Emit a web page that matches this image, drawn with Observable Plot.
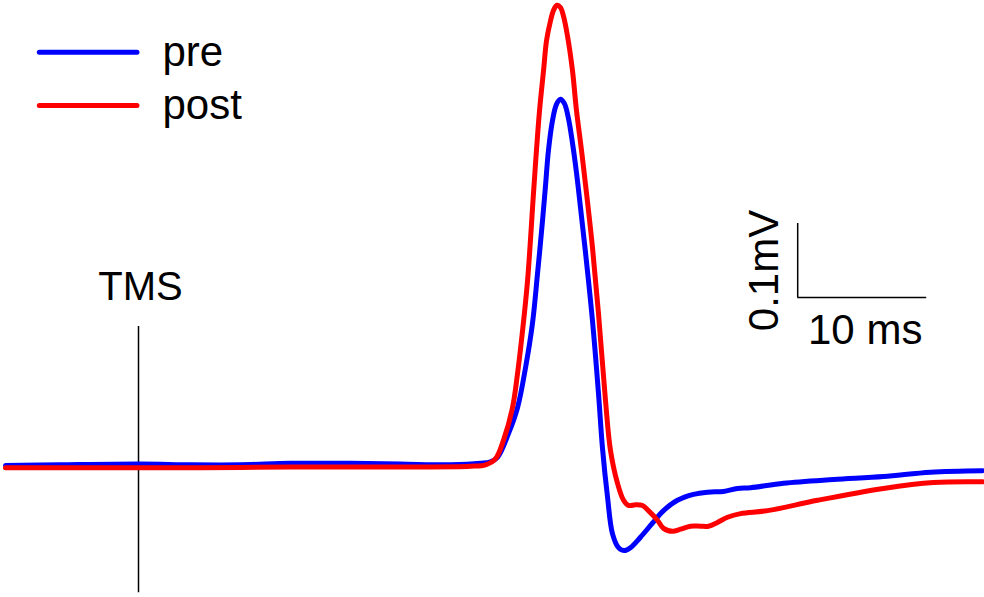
<!DOCTYPE html>
<html>
<head>
<meta charset="utf-8">
<script src="https://cdn.jsdelivr.net/npm/d3@7"></script>
<script src="https://cdn.jsdelivr.net/npm/@observablehq/plot@0.6"></script>
<style>
  html, body { margin: 0; padding: 0; background: #fff; }
  #chart { width: 984px; height: 597px; }
</style>
</head>
<body>
<div id="chart"></div>
<script>
// time (ms, relative to TMS) and amplitude (mV)
const preTime = [-10.31,-6.05,0.16,4.03,7.91,11.78,16.43,20.31,24.19,26.51,27.29,27.83,28.68,29.38,30.00,30.54,30.93,31.32,31.55,31.78,32.09,32.40,32.71,33.02,33.33,33.64,33.95,34.26,34.65,35.19,35.66,35.97,36.36,36.74,37.21,37.67,38.14,38.91,39.84,40.70,41.78,43.02,44.11,45.35,46.43,47.44,50.00,53.88,57.75,61.40,65.43];
const preAmp  = [0.000,0.001,0.002,0.001,0.001,0.003,0.003,0.002,0.001,0.003,0.005,0.011,0.043,0.078,0.132,0.192,0.259,0.331,0.378,0.426,0.466,0.488,0.495,0.489,0.469,0.436,0.396,0.349,0.288,0.196,0.097,0.023,-0.043,-0.092,-0.111,-0.115,-0.111,-0.097,-0.078,-0.061,-0.047,-0.039,-0.036,-0.035,-0.031,-0.030,-0.024,-0.019,-0.015,-0.009,-0.007];

const postTime = [-10.31,-2.95,4.81,11.78,20.31,25.74,26.90,27.67,28.29,28.99,29.38,29.77,30.16,30.62,30.85,31.09,31.40,31.63,31.94,32.17,32.44,32.71,32.95,33.26,33.64,33.95,34.34,34.73,35.19,35.66,36.20,36.59,37.13,37.60,37.98,38.53,39.07,39.53,40.23,40.70,41.40,42.02,42.79,43.57,44.19,44.88,45.66,46.67,48.76,52.64,57.75,61.63,65.43];
const postAmp  = [-0.003,-0.003,-0.003,-0.002,-0.002,-0.001,0.001,0.009,0.034,0.078,0.124,0.182,0.250,0.368,0.426,0.480,0.534,0.574,0.601,0.615,0.622,0.619,0.607,0.580,0.534,0.480,0.426,0.368,0.295,0.205,0.088,0.020,-0.024,-0.047,-0.054,-0.053,-0.054,-0.061,-0.074,-0.085,-0.089,-0.086,-0.082,-0.082,-0.082,-0.077,-0.070,-0.065,-0.061,-0.047,-0.031,-0.023,-0.022];

const seriesNames = ["pre", "post"];
const seriesColors = ["#0000ff", "#ff0000"];
const legendAmp = [0.5585, 0.4865];

const tmsTime = 0;
const tmsAmpRange = [0.188, -0.172];
const tmsLabel = "TMS";

const barTime = [51.1, 61.1];   // 10 ms
const barAmp = [0.227, 0.327];  // 0.1 mV
const barTimeLabel = "10 ms";
const barAmpLabel = "0.1mV";

const preData = preTime.map((t, i) => ({t, v: preAmp[i]}));
const postData = postTime.map((t, i) => ({t, v: postAmp[i]}));

const font = "Liberation Sans, Arial, Helvetica, sans-serif";
const xMin = -10.698;

const chart = Plot.plot({
  width: 984,
  height: 597,
  marginTop: 0, marginBottom: 0, marginLeft: 0, marginRight: 0,
  x: {domain: [xMin, 65.581], axis: null},
  y: {domain: [-0.17838, 0.62838], axis: null},
  style: {fontFamily: font, background: "#fff"},
  marks: [
    // TMS marker
    Plot.ruleX([tmsTime], {y1: tmsAmpRange[0], y2: tmsAmpRange[1], stroke: "#000", strokeWidth: 1.5}),
    Plot.text([tmsLabel], {x: tmsTime, y: tmsAmpRange[0], dx: 2, dy: -26, fontSize: 40, fill: "#000", textAnchor: "middle", lineAnchor: "bottom"}),
    // traces
    Plot.line(preData, {x: "t", y: "v", stroke: seriesColors[0], strokeWidth: 5, curve: "catmull-rom", strokeLinejoin: "round", strokeLinecap: "round"}),
    Plot.line(postData, {x: "t", y: "v", stroke: seriesColors[1], strokeWidth: 5, curve: "catmull-rom", strokeLinejoin: "round", strokeLinecap: "round"}),
    // scale bar
    Plot.ruleX([barTime[0]], {y1: barAmp[0], y2: barAmp[1], stroke: "#000", strokeWidth: 1.5}),
    Plot.ruleY([barAmp[0]], {x1: barTime[0], x2: barTime[1], stroke: "#000", strokeWidth: 1.5}),
    Plot.text([barTimeLabel], {x: (barTime[0] + barTime[1]) / 2, y: barAmp[0], dx: 3, dy: 46, fontSize: 42, fill: "#000", textAnchor: "middle", lineAnchor: "bottom"}),
    Plot.text([barAmpLabel], {x: barTime[0], y: (barAmp[0] + barAmp[1]) / 2, dx: -20, dy: 10, rotate: -90, fontSize: 42, fill: "#000", textAnchor: "middle", lineAnchor: "bottom"}),
    // legend
    Plot.ruleY(seriesNames, {x1: () => -7.65, x2: () => -0.08, y: (d, i) => legendAmp[i], stroke: (d, i) => seriesColors[i], strokeWidth: 5, strokeLinecap: "round"}),
    Plot.text(seriesNames, {x: () => xMin, dx: 162, y: (d, i) => legendAmp[i], fontSize: 42, fill: "#000", textAnchor: "start", lineAnchor: "middle"})
  ]
});

document.getElementById("chart").appendChild(chart);
</script>
</body>
</html>
